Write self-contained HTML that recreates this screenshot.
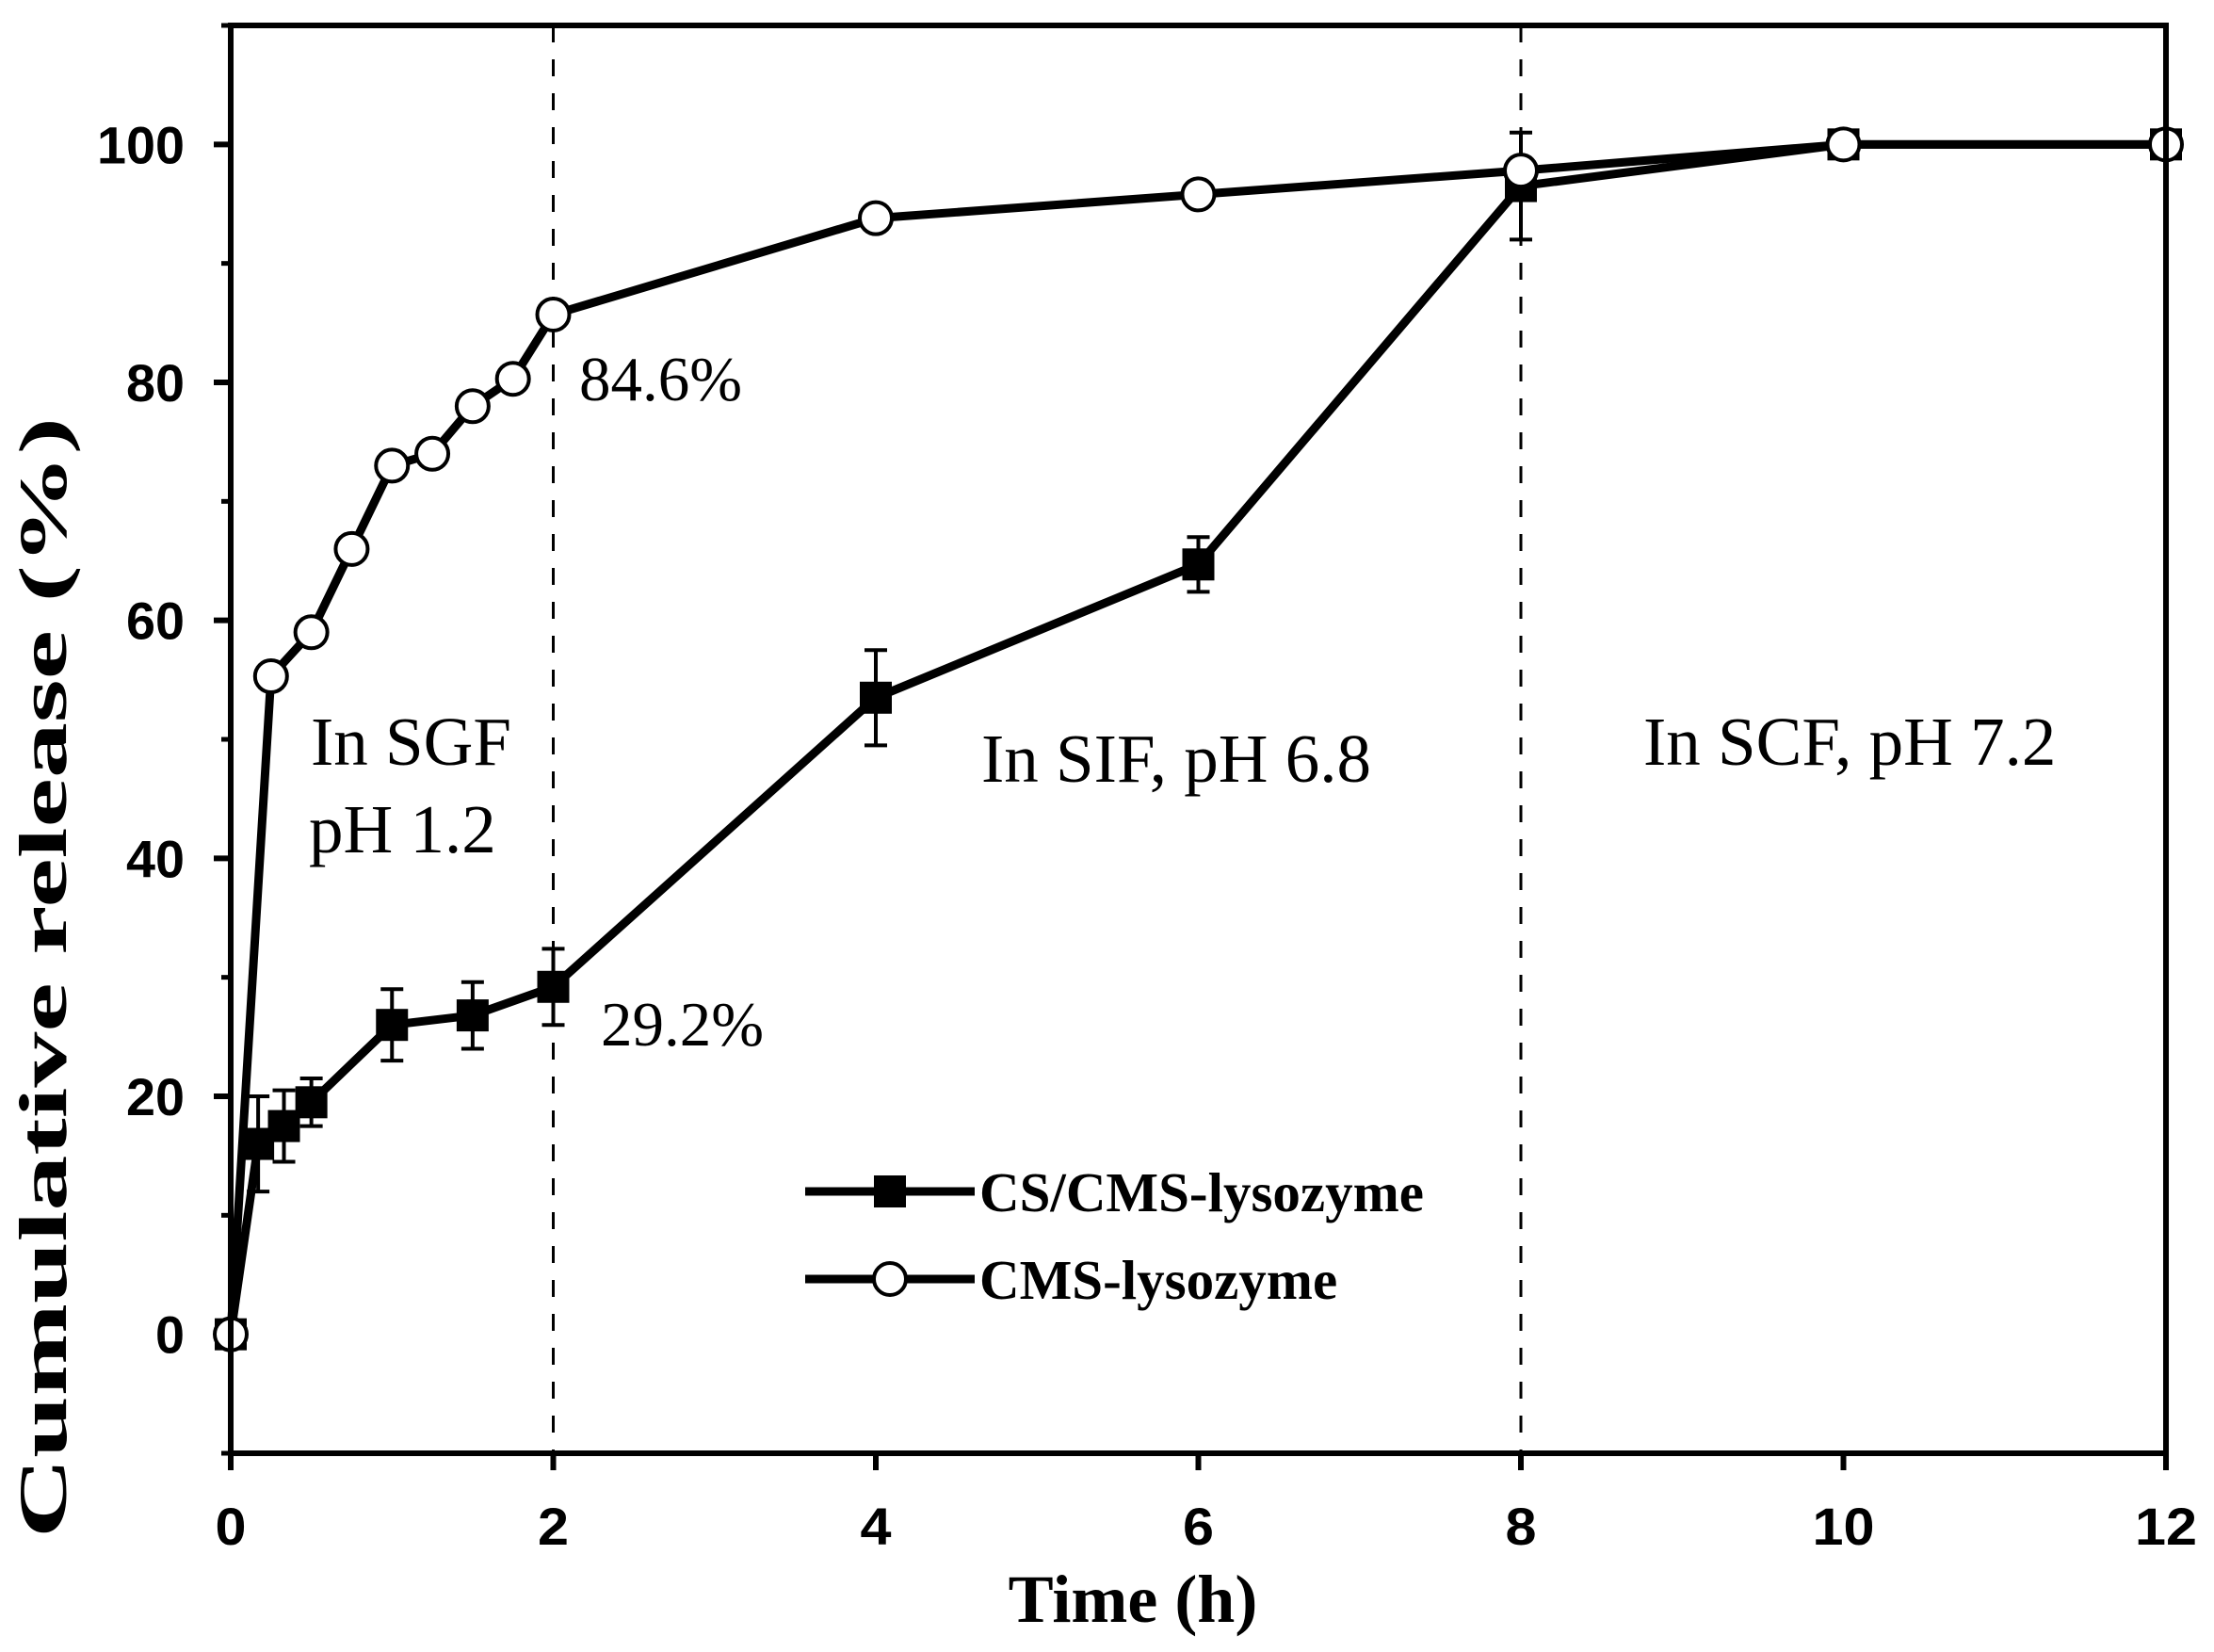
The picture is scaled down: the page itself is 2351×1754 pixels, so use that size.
<!DOCTYPE html>
<html><head><meta charset="utf-8"><style>body{margin:0;background:#fff}svg{display:block}</style></head>
<body>
<svg id="chart" width="2351" height="1754" xmlns="http://www.w3.org/2000/svg"></svg>
<script>
const xTicks=[0,2,4,6,8,10,12];
const yTicks=[0,20,40,60,80,100];
const cmsX=[0,0.25,0.5,0.75,1,1.25,1.5,1.75,2,4,6,8,10,12];
const cmsY=[0,55.3,59,66,73,74,78,80.3,85.7,93.8,95.8,97.8,100,100];
const csX=[0,0.17,0.33,0.5,1,1.5,2,4,6,8,10,12];
const csY=[0,16,17.5,19.5,26,26.8,29.2,53.5,64.7,96.5,100,100];
const csErr=[0,4,3,2,3,2.8,3.2,4,2.3,4.5,0,0];
const phaseLines=[2,8];
const NS='http://www.w3.org/2000/svg';
const svg=document.getElementById('chart');
const L=245,R=2300,T=27,B=1543,X0=0,X1=12,Y0=-10,Y1=110;
const sx=v=>L+(v-X0)/(X1-X0)*(R-L);
const sy=v=>B-(v-Y0)/(Y1-Y0)*(B-T);
function mk(tag,at,parent){const e=document.createElementNS(NS,tag);for(const k in at)e.setAttribute(k,at[k]);(parent||svg).appendChild(e);return e;}
phaseLines.forEach(p=>{const l=mk('line',{x1:sx(p),x2:sx(p),y1:T,y2:B,stroke:'#000','stroke-width':3,'stroke-dasharray':'18,18'});

});
const tf='Liberation Sans, sans-serif';
xTicks.forEach(v=>{mk('line',{x1:sx(v),x2:sx(v),y1:B,y2:B+18,stroke:'#000','stroke-width':6});
const s=String(v);
const t=mk('text',{x:sx(v),y:1640,'text-anchor':'middle','font-family':tf,'font-weight':'bold','font-size':56,textLength:s.length*33,lengthAdjust:'spacingAndGlyphs'});t.textContent=s;

});
yTicks.forEach(v=>{mk('line',{x1:L,x2:L-18,y1:sy(v),y2:sy(v),stroke:'#000','stroke-width':6});
const s=String(v);
const t=mk('text',{x:196,y:sy(v)+20,'text-anchor':'end','font-family':tf,'font-weight':'bold','font-size':56,textLength:s.length*31,lengthAdjust:'spacingAndGlyphs'});t.textContent=s;

});
for(let v=-10;v<=110;v+=20)mk('line',{x1:L,x2:L-10,y1:sy(v),y2:sy(v),stroke:'#000','stroke-width':5});
function path(xs,ys){return xs.map((x,i)=>(i?'L':'M')+sx(x)+','+sy(ys[i])).join('');}
const p1=mk('path',{d:path(csX,csY),fill:'none',stroke:'#000','stroke-width':9,'stroke-linejoin':'round'});


const p2=mk('path',{d:path(cmsX,cmsY),fill:'none',stroke:'#000','stroke-width':9,'stroke-linejoin':'round'});


csX.forEach((x,i)=>{const e=csErr[i];if(e>0){const cx=sx(x),a=sy(csY[i]+e),b=sy(csY[i]-e);
mk('line',{x1:cx,x2:cx,y1:a,y2:b,stroke:'#000','stroke-width':4});
mk('line',{x1:cx-12,x2:cx+12,y1:a,y2:a,stroke:'#000','stroke-width':4});
mk('line',{x1:cx-12,x2:cx+12,y1:b,y2:b,stroke:'#000','stroke-width':4});}
const r=mk('rect',{x:sx(x)-17,y:sy(csY[i])-17,width:34,height:34,fill:'#000'});

});
cmsX.forEach((x,i)=>{const c=mk('circle',{cx:sx(x),cy:sy(cmsY[i]),r:17,fill:'#fff',stroke:'#000','stroke-width':4});

});
mk('rect',{x:L,y:T,width:R-L,height:B-T,fill:'none',stroke:'#000','stroke-width':6});
function txt(s,x,y,sz,w,fam,name,anchor,rot,len){const t=mk('text',{x:x,y:y,'font-size':sz,'font-weight':w,'font-family':fam,'text-anchor':anchor||'start'});if(rot)t.setAttribute('transform',rot);if(len){t.setAttribute('textLength',len);t.setAttribute('lengthAdjust','spacingAndGlyphs');}t.textContent=s;

return t;}
const serif='Liberation Serif, serif';
txt('84.6%',615,425,67,'normal',serif,'annotation-84-6');
txt('29.2%',638,1110,67,'normal',serif,'annotation-29-2');
txt('In SGF',330,812,73,'normal',serif,'label-sgf');
txt('pH 1.2',328,905,73,'normal',serif,'label-sgf-ph');
txt('In SIF, pH 6.8',1042,830,73,'normal',serif,'label-sif');
txt('In SCF, pH 7.2',1745,812,73,'normal',serif,'label-scf');
txt('Time (h)',1203,1722,72,'bold',serif,'x-axis-title','middle');
txt('Cumulative release (%)',0,0,72,'bold',serif,'y-axis-title','middle','translate(70,1038) rotate(-90)',1190);
mk('line',{x1:855,x2:1035,y1:1265,y2:1265,stroke:'#000','stroke-width':9});
mk('rect',{x:928,y:1248,width:34,height:34,fill:'#000'});
txt('CS/CMS-lysozyme',1040,1286,59,'bold',serif,'legend-cs-cms');
mk('line',{x1:855,x2:1035,y1:1358,y2:1358,stroke:'#000','stroke-width':9});
mk('circle',{cx:945,cy:1358,r:17,fill:'#fff',stroke:'#000','stroke-width':4});
txt('CMS-lysozyme',1040,1379,59,'bold',serif,'legend-cms');
</script>
</body></html>
